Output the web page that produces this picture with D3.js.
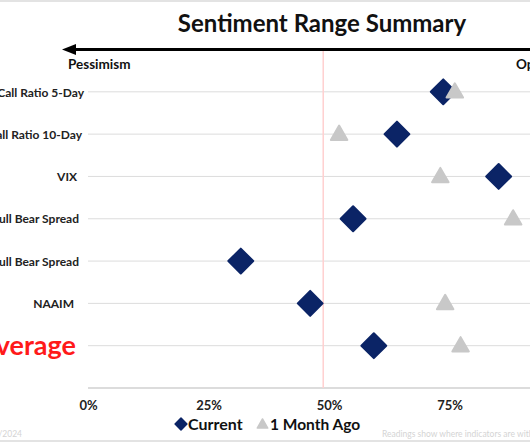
<!DOCTYPE html>
<html>
<head>
<meta charset="utf-8">
<script src="https://cdn.jsdelivr.net/npm/d3@7"></script>
<style>
  html, body { margin: 0; padding: 0; background: #fff; }
  svg { display: block; }
  text { font-family: Lato, "Open Sans", sans-serif; }
</style>
</head>
<body>
<svg id="chart" width="530" height="442"></svg>
<script>
// ---- data ----
const categories = [
  "Put/Call Ratio 5-Day",
  "Put/Call Ratio 10-Day",
  "VIX",
  "AAII Bull Bear Spread",
  "II Bull Bear Spread",
  "NAAIM",
  "Average"
];
const current    = [0.737, 0.641, 0.852, 0.550, 0.317, 0.461, 0.593];
const monthAgo   = [0.761, 0.521, 0.731, 0.882, 1.000, 0.741, 0.773];
const xTicks     = [0, 0.25, 0.5, 0.75, 1];
const xTickLabels = ["0%", "25%", "50%", "75%", "100%"];
const refLine    = 0.488;
const seriesNames = ["Current", "1 Month Ago"];
const titleText = "Sentiment Range Summary";

// ---- layout ----
const svg = d3.select("#chart");
const W = 530, H = 442;
const x = d3.scaleLinear().domain([0, 1]).range([88, 570]);
const y = d3.scaleLinear().domain([0, categories.length + 1]).range([49.5, 388]);

const navy = "#0b2466";
const gray = "#c8c8c8";

// frame lines
svg.append("line").attr("x1", 0).attr("x2", W).attr("y1", 1).attr("y2", 1)
  .attr("stroke", "#e3e3e3").attr("stroke-width", 2);
svg.append("line").attr("x1", 0).attr("x2", W).attr("y1", 441).attr("y2", 441)
  .attr("stroke", "#e3e3e3").attr("stroke-width", 2);

// title
svg.append("text").attr("x", 322).attr("y", 32).attr("text-anchor", "middle")
  .attr("font-size", 24).attr("font-weight", 700).attr("fill", "#111")
  .text(titleText);

// gridlines (one per category plus bottom baseline)
const gridIdx = d3.range(1, categories.length + 2);
svg.append("g").selectAll("line").data(gridIdx).join("line")
  .attr("x1", x(0)).attr("x2", W)
  .attr("y1", d => y(d)).attr("y2", d => y(d))
  .attr("stroke", d => d === categories.length + 1 ? "#d0d0d0" : "#dcdcdc")
  .attr("stroke-width", d => d === categories.length + 1 ? 1.5 : 1);

// reference line
svg.append("line").attr("x1", x(refLine)).attr("x2", x(refLine))
  .attr("y1", y(0)).attr("y2", y(categories.length + 1))
  .attr("stroke", "#ffd0d0").attr("stroke-width", 1.5);

// arrow
svg.append("line").attr("x1", 72).attr("x2", W).attr("y1", y(0)).attr("y2", y(0))
  .attr("stroke", "#000").attr("stroke-width", 3);
svg.append("path")
  .attr("d", `M62,${y(0)} L76,${y(0) - 5.5} L76,${y(0) + 5.5} Z`)
  .attr("fill", "#000");
svg.append("text").attr("x", 68).attr("y", 68.5).attr("font-size", 13.5)
  .attr("font-weight", 700).attr("fill", "#111").text("Pessimism");
svg.append("text").attr("x", 516).attr("y", 68.5).attr("font-size", 13.5)
  .attr("font-weight", 700).attr("fill", "#111").text("Optimism");

// y axis labels
const yAxis = d3.axisLeft(y)
  .tickValues(d3.range(1, categories.length + 1))
  .tickFormat(d => categories[d - 1])
  .tickSize(0).tickPadding(0);
const gy = svg.append("g").attr("transform", "translate(84,0)").call(yAxis);
gy.select(".domain").remove();
gy.selectAll("text")
  .attr("font-family", "Lato, sans-serif")
  .attr("font-weight", 700)
  .attr("font-size", d => categories[d - 1] === "Average" ? 27 : 12)
  .attr("fill", d => categories[d - 1] === "Average" ? "#ff1a1a" : "#222")
  .attr("dx", d => {
    const c = categories[d - 1];
    if (c === "Average") return -8;
    if (c === "VIX") return -7;
    if (c === "NAAIM") return -10;
    if (c.indexOf("Bear") >= 0) return -5;
    if (c.indexOf("10-Day") >= 0) return -2;
    return 0;
  })
  .attr("dy", d => categories[d - 1] === "Average" ? "0.32em" : "0.35em");

// x axis labels
const xAxis = d3.axisBottom(x).tickValues(xTicks)
  .tickFormat((d, i) => xTickLabels[i]).tickSize(0).tickPadding(0);
const gx = svg.append("g").attr("transform", "translate(0,400)").call(xAxis);
gx.select(".domain").remove();
gx.selectAll("text")
  .attr("font-family", "Lato, sans-serif")
  .attr("font-weight", 700).attr("font-size", 13).attr("fill", "#222")
  .attr("dy", "0.75em");

// markers
const diamondSym = d3.symbol(d3.symbolSquare, 310);
const triSym = d3.symbol(d3.symbolTriangle, 118);

const gm = svg.append("g");
gm.selectAll("path.cur").data(current).join("path").attr("class", "cur")
  .attr("d", diamondSym)
  .attr("transform", (d, i) => `translate(${x(d)},${y(i + 1)}) rotate(45)`)
  .attr("fill", navy).attr("stroke", navy).attr("stroke-width", 2)
  .attr("stroke-linejoin", "round");
gm.selectAll("path.ago").data(monthAgo).join("path").attr("class", "ago")
  .attr("d", triSym)
  .attr("transform", (d, i) => `translate(${x(d)},${y(i + 1) + 1})`)
  .attr("fill", gray).attr("stroke", gray).attr("stroke-width", 2)
  .attr("stroke-linejoin", "round");

// legend
const lg = svg.append("g");
lg.append("path").attr("d", d3.symbol(d3.symbolSquare, 70))
  .attr("transform", "translate(181,424) rotate(45)")
  .attr("fill", navy).attr("stroke", navy).attr("stroke-width", 1.5).attr("stroke-linejoin", "round");
lg.append("text").attr("x", 188).attr("y", 429.5).attr("font-size", 16)
  .attr("font-weight", 700).attr("fill", "#111").text(seriesNames[0]);
lg.append("path").attr("d", d3.symbol(d3.symbolTriangle, 48))
  .attr("transform", "translate(262.5,425)")
  .attr("fill", gray).attr("stroke", gray).attr("stroke-width", 1.5).attr("stroke-linejoin", "round");
lg.append("text").attr("x", 270).attr("y", 429.5).attr("font-size", 15.5)
  .attr("font-weight", 700).attr("fill", "#111").text(seriesNames[1]);

// footnotes
svg.append("text").attr("x", 382).attr("y", 437).attr("font-size", 8.5)
  .attr("fill", "#d4d4d4").text("Readings show where indicators are within their 1-year range");
svg.append("text").attr("x", 22).attr("y", 437).attr("text-anchor", "end")
  .attr("font-size", 8.5).attr("fill", "#d4d4d4").text("As of 6/7/2024");
</script>
</body>
</html>
